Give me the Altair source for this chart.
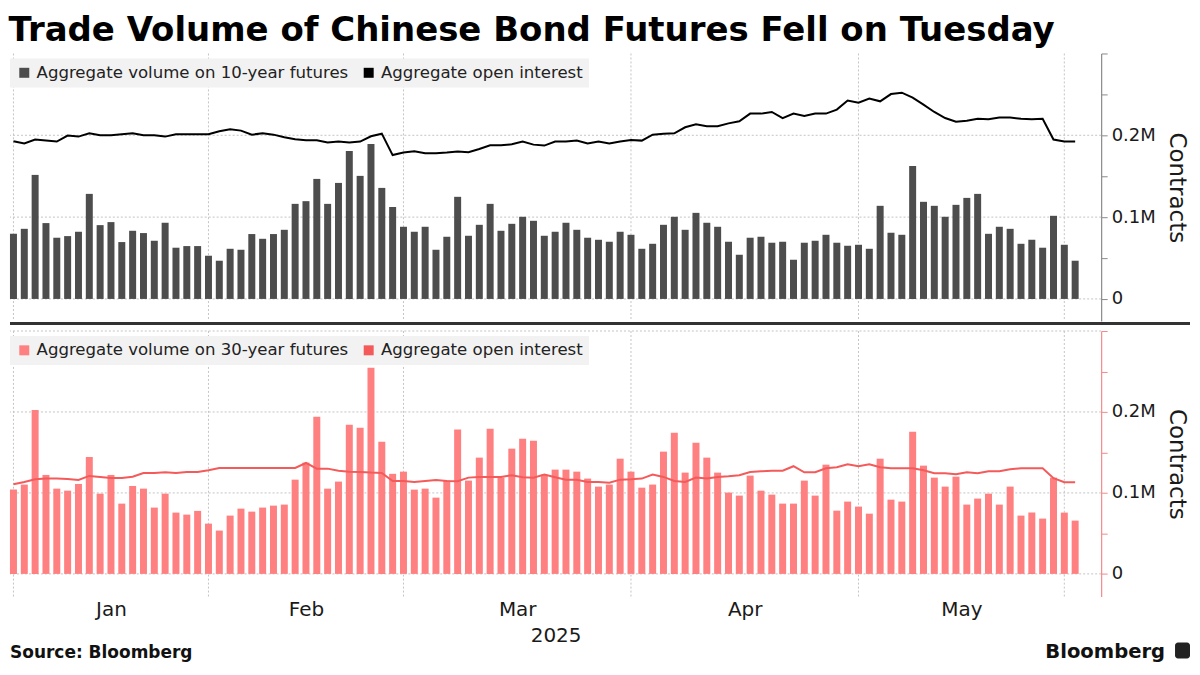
import altair as alt
import pandas as pd

title_text = "Trade Volume of Chinese Bond Futures Fell on Tuesday"
months = ["Jan", "Feb", "Mar", "Apr", "May"]
month_start = [0, 18, 36, 57, 78, 97]   # trading-day index of first session of each month
top_labels = ["Aggregate volume on 10-year futures", "Aggregate open interest"]
bot_labels = ["Aggregate volume on 30-year futures", "Aggregate open interest"]

# thousands of contracts, one value per trading day
vol10 = [79.6, 85.7, 151.6, 92.7, 74.8, 76.8, 82.1, 128.4, 90.2, 93.9, 69.5, 83.3, 80.5, 71.1, 93.1, 62.6, 64.6, 64.6,
         52.8, 46.7, 61.3, 60.1, 79.3, 73.5, 79.3, 84.5, 116.2, 119.5, 146.7, 116.2, 141.8, 180.9, 150.4, 189.4, 135.7, 112.4,
         88.2, 82.1, 88.2, 60.1, 76.0, 124.8, 77.2, 90.6, 116.2, 83.3, 91.8, 100.4, 95.5, 77.2, 82.1, 93.1, 84.5, 74.8, 72.3, 69.9, 82.1,
         78.4, 61.3, 67.4, 90.6, 100.4, 84.5, 105.2, 93.1, 88.2, 69.9, 54.0, 74.8, 76.0, 68.7, 69.9, 47.9, 68.7, 71.1, 78.4, 68.7, 65.0,
         66.2, 61.3, 113.8, 80.9, 78.4, 162.6, 118.7, 113.8, 100.4, 115.0, 123.5, 128.4, 79.6, 88.2, 85.7, 67.4, 72.3, 62.6, 101.6,
         66.2, 46.7]
oi10 = [192.7, 189.9, 194.8, 193.5, 192.3, 199.6, 198.4, 202.4, 200.0, 200.0, 201.2, 202.4, 200.0, 200.0, 198.4, 201.2, 201.2, 201.2,
        201.2, 204.9, 207.3, 205.7, 200.8, 202.4, 200.8, 197.6, 195.1, 193.9, 193.9, 191.1, 192.3, 191.1, 192.3, 198.8, 202.0, 175.8,
        178.9, 180.5, 178.0, 178.0, 178.9, 180.1, 179.3, 183.3, 187.8, 187.8, 189.0, 192.3, 188.6, 187.4, 192.3, 192.3, 193.5, 189.9,
        192.3, 189.9, 192.3, 194.3, 193.5, 200.8, 202.0, 202.4, 209.8, 213.4, 211.0, 211.0, 214.6, 217.1, 226.5, 226.5, 228.5, 221.0,
        226.5, 223.6, 226.5, 226.5, 231.4, 242.4, 239.9, 244.8, 241.5, 250.4, 252.1, 246.0, 237.4, 228.5, 221.1, 216.7, 217.9, 220.3,
        219.5, 221.6, 221.6, 220.3, 219.5, 220.3, 194.8, 192.3, 192.3]
vol30 = [104.1, 110.3, 202.5, 122.2, 105.3, 102.8, 111.1, 144.4, 99.1, 122.2, 86.8, 108.6, 105.3, 81.9, 99.1, 75.7, 73.2, 77.8,
         62.1, 53.5, 72.0, 80.6, 76.9, 81.9, 84.3, 85.6, 116.4, 137.4, 194.2, 105.3, 114.0, 184.3, 180.6, 254.7, 163.3, 123.6,
         126.3, 104.1, 105.3, 94.2, 115.2, 178.2, 115.2, 143.6, 179.4, 118.9, 154.7, 167.0, 164.6, 122.6, 128.8, 128.8, 126.3, 117.7,
         107.8, 110.3, 142.3, 126.3, 106.5, 110.3, 151.0, 174.4, 125.1, 162.1, 143.6, 125.1, 100.4, 96.7, 121.4, 102.8, 97.9, 86.8,
         86.8, 115.2, 96.7, 134.9, 78.1, 89.3, 83.1, 74.4, 142.3, 91.7, 89.3, 175.7, 133.7, 118.9, 107.8, 120.1, 85.6, 93.0, 99.1,
         85.6, 107.8, 72.0, 75.7, 68.3, 118.9, 75.7, 65.8]
oi30 = [110.7, 113.6, 116.9, 117.7, 117.7, 117.3, 116.0, 121.0, 119.8, 118.5, 118.5, 120.1, 124.7, 124.7, 125.5, 124.7, 125.9, 125.9,
        128.0, 130.9, 130.9, 130.9, 130.9, 130.9, 130.9, 130.9, 130.9, 137.0, 130.0, 130.0, 127.5, 126.3, 125.9, 125.1, 124.7, 114.6,
        114.8, 113.6, 114.8, 116.0, 114.8, 114.4, 118.9, 119.8, 119.8, 119.8, 121.8, 119.4, 118.9, 122.6, 119.4, 116.4, 116.4, 113.6,
        113.6, 112.7, 116.4, 116.9, 117.7, 122.6, 119.8, 114.8, 113.6, 118.9, 117.7, 119.8, 120.6, 121.8, 125.9, 126.7, 127.5, 127.5,
        133.0, 125.5, 125.5, 130.5, 131.7, 135.4, 133.0, 135.4, 131.7, 130.5, 130.5, 130.5, 128.0, 124.3, 124.3, 123.1, 125.5, 124.3,
        126.7, 126.7, 129.3, 130.5, 130.5, 130.5, 118.2, 113.2, 113.2]

FONT = "DejaVu Sans"
W = 1093
HT = 268
HB = 266
TXT = "#1a1a1a"
GRID = "#c4c4c4"

n = len(vol10)
top_df = pd.DataFrame({"i": list(range(n)), "vol": [v / 1000 for v in vol10],
                       "oi": [v / 1000 for v in oi10], "series": top_labels[0]})
bot_df = pd.DataFrame({"i": list(range(n)), "vol": [v / 1000 for v in vol30],
                       "oi": [v / 1000 for v in oi30], "series": bot_labels[0]})

xscale = alt.Scale(domain=[-0.32, 100.4], nice=False, zero=False, padding=0)
tick_vals = [0, 0.05, 0.1, 0.15, 0.2, 0.25, 0.3]
ylab = ("datum.value == 0 ? '0' : abs(datum.value - 0.1) < 0.001 ? '0.1M' : "
        "abs(datum.value - 0.2) < 0.001 ? '0.2M' : ''")

mids = [(month_start[k] + month_start[k + 1]) / 2 for k in range(len(months))]
xlab = " : ".join(f"datum.value < {month_start[k + 1]} ? '{months[k]}'" for k in range(len(months))) + " : ''"


def yaxis(color):
    return alt.Axis(orient="right", values=tick_vals, labelExpr=ylab, grid=False,
                    domainColor=color, tickColor=color, tickSize=6, domainWidth=1.2,
                    labelFontSize=18, labelPadding=4, labelColor=TXT, labelFont=FONT,
                    title="Contracts", titleFontSize=23, titleFontWeight="normal",
                    titleColor=TXT, titleFont=FONT, titlePadding=9.5)


def legend():
    return alt.Legend(orient="none", legendX=0, legendY=5, direction="horizontal",
                      fillColor="#f2f2f2", padding=6, symbolType="square", symbolSize=100,
                      symbolStrokeWidth=0, labelFontSize=16.6, labelColor="#222",
                      labelFont=FONT, labelOffset=4, columnPadding=12, title=None,
                      labelLimit=0)


def panel(df, labels, colors, line_color, axis_color, ydom, H, grid_vals, bottom):
    if bottom:
        xaxis = alt.Axis(values=mids, labelExpr=xlab, ticks=False, domain=False, grid=False,
                         labelFontSize=20, labelPadding=3, labelColor=TXT, labelFont=FONT,
                         title="2025", titleFontSize=20, titleFontWeight="normal",
                         titleColor=TXT, titleFont=FONT, titlePadding=6)
    else:
        xaxis = None
    ya = yaxis(axis_color)
    yscale = alt.Scale(domain=ydom, nice=False, zero=False, padding=0)

    hgrid = alt.Chart(pd.DataFrame({"g": grid_vals})).mark_rule(
        color=GRID, strokeDash=[2, 2], strokeWidth=1).encode(
        y=alt.Y("g:Q", scale=yscale, axis=ya))
    vgrid = alt.Chart(pd.DataFrame({"m": month_start})).mark_rule(
        color=GRID, strokeDash=[2, 2], strokeWidth=1).encode(
        x=alt.X("m:Q", scale=xscale, axis=xaxis), y=alt.value(0), y2=alt.value(H))
    bars = alt.Chart(df).mark_bar(size=7).encode(
        x=alt.X("i:Q", scale=xscale, axis=xaxis),
        y=alt.Y("vol:Q", scale=yscale, axis=ya),
        color=alt.Color("series:N", scale=alt.Scale(domain=labels, range=colors), legend=legend()))
    line = alt.Chart(df).mark_line(color=line_color, strokeWidth=2).encode(
        x=alt.X("i:Q", scale=xscale, axis=xaxis),
        y=alt.Y("oi:Q", scale=yscale, axis=ya))
    layers = [hgrid, vgrid, bars, line]
    if not bottom:
        divider = alt.Chart(pd.DataFrame({"k": [0]})).mark_rule(color="#333", strokeWidth=3).encode(
            x=alt.value(0), x2=alt.value(1182), y=alt.value(H + 2.5))
        layers.append(divider)
    else:
        foot1 = alt.Chart(pd.DataFrame({"t": ["Source: Bloomberg"]})).mark_text(
            align="left", baseline="middle", fontSize=17, fontWeight="bold", font=FONT, color="#111"
        ).encode(text="t:N", x=alt.value(0), y=alt.value(H + 57))
        foot2 = alt.Chart(pd.DataFrame({"t": ["Bloomberg"]})).mark_text(
            align="right", baseline="middle", fontSize=19.6, fontWeight="bold", font=FONT, color="#111"
        ).encode(text="t:N", x=alt.value(1157), y=alt.value(H + 56))
        icon = alt.Chart(pd.DataFrame({"k": [0]})).mark_rect(color="#222", cornerRadius=3).encode(
            x=alt.value(1167), x2=alt.value(1182), y=alt.value(H + 46), y2=alt.value(H + 62))
        layers += [foot1, foot2, icon]
    return alt.layer(*layers).properties(width=W, height=H)


top = panel(top_df, top_labels, ["#4d4d4d", "#000000"], "#000000", "#8a8a8a",
            [-0.027, 0.3], HT, [0, 0.1, 0.2], False)
bot = panel(bot_df, bot_labels, ["#ff8080", "#f45a5a"], "#f45a5a", "#f28a8a",
            [-0.028, 0.3], HB, [0, 0.1, 0.2, 0.3], True)

chart = alt.vconcat(top, bot, spacing=5).resolve_scale(
    color="independent", x="independent", y="independent"
).properties(
    title=alt.TitleParams(title_text, fontSize=34.0, fontWeight="bold", font=FONT,
                          anchor="start", color="#000", offset=5),
    padding={"top": 5, "left": 0, "right": 0, "bottom": 0},
    background="white",
).configure(font=FONT).configure_view(stroke=None)

chart.save("out.html", embed_options={"renderer": "svg", "actions": False})
